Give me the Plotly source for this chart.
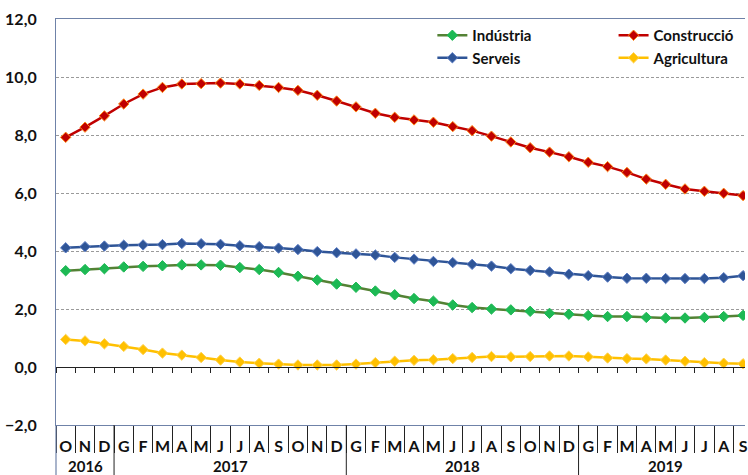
import plotly.graph_objects as go

# Month initials (Catalan) from Oct 2016 to Sep 2019
months = ["O", "N", "D",
          "G", "F", "M", "A", "M", "J", "J", "A", "S", "O", "N", "D",
          "G", "F", "M", "A", "M", "J", "J", "A", "S", "O", "N", "D",
          "G", "F", "M", "A", "M", "J", "J", "A", "S"]
years = ["2016", "2017", "2018", "2019"]
months_per_year = [3, 12, 12, 9]

industria = [3.32, 3.36, 3.39, 3.45, 3.47, 3.49, 3.52, 3.52, 3.51, 3.43,
             3.36, 3.26, 3.13, 3.00, 2.86, 2.75, 2.62, 2.49, 2.36, 2.27,
             2.14, 2.05, 2.00, 1.97, 1.92, 1.85, 1.82, 1.78, 1.74, 1.74,
             1.71, 1.69, 1.69, 1.71, 1.74, 1.78]
construccio = [7.92, 8.27, 8.66, 9.07, 9.41, 9.64, 9.76, 9.77, 9.79, 9.76,
               9.71, 9.64, 9.54, 9.37, 9.17, 8.97, 8.75, 8.61, 8.52, 8.44,
               8.29, 8.15, 7.96, 7.76, 7.56, 7.41, 7.25, 7.06, 6.91, 6.71,
               6.48, 6.30, 6.14, 6.06, 5.99, 5.91]
serveis = [4.11, 4.15, 4.17, 4.20, 4.21, 4.22, 4.26, 4.25, 4.23, 4.18,
           4.15, 4.10, 4.05, 3.98, 3.94, 3.90, 3.86, 3.78, 3.72, 3.64,
           3.60, 3.54, 3.48, 3.39, 3.33, 3.28, 3.20, 3.15, 3.10, 3.06,
           3.06, 3.05, 3.05, 3.05, 3.08, 3.15]
agricultura = [0.95, 0.90, 0.80, 0.71, 0.60, 0.48, 0.41, 0.33, 0.24, 0.17,
               0.13, 0.10, 0.07, 0.07, 0.07, 0.10, 0.15, 0.20, 0.23, 0.25,
               0.29, 0.33, 0.36, 0.35, 0.36, 0.38, 0.38, 0.35, 0.31, 0.29,
               0.28, 0.24, 0.20, 0.15, 0.13, 0.11]

y_ticks = [-2, 0, 2, 4, 6, 8, 10, 12]

x = list(range(len(months)))
FONT = "Lato"
AXIS_COLOR = "#6F82A8"

fig = go.Figure()

series = [
    ("Indústria", industria, "#548235", "#1DB954", "#1DB954", "legend"),
    ("Serveis", serveis, "#2F5597", "#2F5597", "#5B7CC4", "legend"),
    ("Construcció", construccio, "#C00000", "#C00000", "#FF8C1A", "legend2"),
    ("Agricultura", agricultura, "#FFC000", "#FFC000", "#FFD24D", "legend2"),
]
for name, vals, lcol, mcol, mline, leg in series:
    fig.add_trace(go.Scatter(
        x=x, y=vals, name=name, mode="lines+markers",
        line=dict(color=lcol, width=2.5),
        marker=dict(symbol="diamond", size=8, color=mcol,
                    line=dict(color=mline, width=1)),
        legend=leg,
    ))

# companion axis drawn along y = 0 with short boundary ticks
fig.add_trace(go.Scatter(x=[x[0]], y=[0], xaxis="x2", showlegend=False,
                         mode="markers", marker=dict(opacity=0),
                         hoverinfo="skip"))

xrange = [-0.5, len(months) - 0.9]
bottom = -50 / 406

# year separators and year labels
shapes = [dict(type="line", xref="paper", yref="paper", x0=0, x1=0,
               y0=0, y1=bottom, line=dict(color=AXIS_COLOR, width=1.2))]
annotations = []
start = 0
for yr, n in zip(years, months_per_year):
    end = start + n
    if end < len(months):
        shapes.append(dict(type="line", xref="x", yref="paper",
                           x0=end - 0.5, x1=end - 0.5, y0=0, y1=bottom,
                           line=dict(color="#222222", width=1)))
    annotations.append(dict(x=(start + end - 1) / 2, y=-41 / 406,
                            xref="x", yref="paper", text=yr,
                            showarrow=False, yanchor="middle",
                            font=dict(family=FONT, size=15, color="#111111",
                                      weight="bold")))
    start = end

legend_font = dict(family=FONT, size=15, color="#111111", weight="bold")

fig.update_layout(
    width=748, height=475,
    margin=dict(l=56, r=0, t=19, b=50),
    paper_bgcolor="white", plot_bgcolor="white",
    separators=",.",
    showlegend=True,
    legend=dict(x=(434 - 56) / 692, y=1.0,
                xanchor="left", yanchor="top", bgcolor="rgba(0,0,0,0)",
                font=legend_font, itemwidth=30, tracegroupgap=0,
                itemclick=False),
    legend2=dict(x=(616 - 56) / 692, y=1.0,
                 xanchor="left", yanchor="top", bgcolor="rgba(0,0,0,0)",
                 font=legend_font, itemwidth=30, tracegroupgap=0,
                 itemclick=False),
    xaxis=dict(
        range=xrange, tickmode="array", tickvals=x, ticktext=months,
        ticks="", showgrid=False, zeroline=False,
        showline=True, linecolor=AXIS_COLOR, linewidth=1.2, mirror=True,
        tickfont=dict(family=FONT, size=16, color="#111111", weight="bold"),
        ticklabelstandoff=7, ticklabeloverflow="allow",
        minor=dict(tickmode="linear", tick0=-0.5, dtick=1, ticks="outside",
                   ticklen=27, tickcolor="#222222", tickwidth=1,
                   showgrid=False),
    ),
    xaxis2=dict(
        range=xrange, overlaying="x", anchor="free", position=2 / 14,
        side="bottom", showticklabels=False, showgrid=False, zeroline=False,
        showline=True, linecolor="#222222", linewidth=1, ticks="",
        minor=dict(tickmode="linear", tick0=-0.5, dtick=1, ticks="outside",
                   ticklen=5, tickcolor="#222222", tickwidth=1,
                   showgrid=False),
    ),
    yaxis=dict(
        range=[-2, 12], tickmode="array", tickvals=y_ticks,
        tickformat=".1f", showgrid=True, gridcolor="#9A9A9A",
        griddash="3px,2px", gridwidth=1, zeroline=False,
        showline=True, linecolor=AXIS_COLOR, linewidth=1.2,
        ticks="", ticklabelstandoff=15,
        tickfont=dict(family=FONT, size=16, color="#111111", weight="bold"),
    ),
    shapes=shapes,
    annotations=annotations,
)

fig.write_html("out.html")
